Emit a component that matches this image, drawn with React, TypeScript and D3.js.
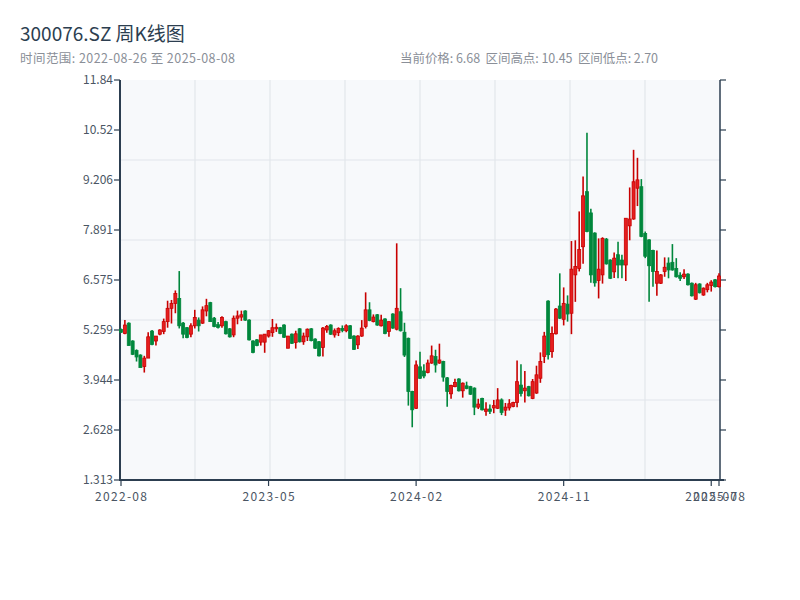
import React from 'react';
import * as d3 from 'd3';

// weekly candles, 2022-08-26 .. 2025-08-08
const startDate = new Date(2022, 7, 26);

const open = [
  5.27, 5.17, 5.44, 4.97, 4.72, 4.60, 4.30, 4.52, 5.23, 4.97, 5.15, 5.22, 5.48, 5.83, 5.96, 6.09, 5.44, 5.32, 5.15, 5.37,
  5.52, 5.44, 5.76, 5.98, 5.57, 5.40, 5.37, 5.48, 5.29, 5.13, 5.57, 5.60, 5.76, 5.52, 4.97, 5.00, 4.94, 4.94, 5.10, 5.19,
  5.29, 5.32, 5.39, 4.78, 5.15, 4.93, 5.29, 4.95, 5.08, 5.29, 5.02, 4.95, 4.80, 5.26, 5.39, 5.13, 5.19, 5.30, 5.24, 5.37,
  5.10, 4.87, 5.10, 5.35, 5.79, 5.48, 5.66, 5.37, 5.55, 5.22, 5.68, 5.28, 5.74, 5.20, 5.04, 3.64, 3.20, 4.29, 4.18, 4.14,
  4.39, 4.56, 4.39, 4.43, 4.00, 3.58, 3.77, 3.97, 3.66, 3.79, 3.77, 3.73, 3.23, 3.46, 3.12, 3.18, 3.21, 3.20, 3.42, 3.15,
  3.21, 3.25, 3.35, 3.81, 3.66, 3.77, 3.46, 3.60, 3.99, 4.56, 6.02, 4.69, 5.16, 5.89, 5.54, 5.94, 5.70, 6.71, 6.88, 7.45,
  8.90, 8.34, 7.81, 6.56, 6.71, 7.65, 7.10, 6.79, 7.24, 7.10, 6.97, 8.00, 8.18, 8.99, 9.03, 7.80, 7.63, 7.35, 6.49, 6.49,
  6.80, 7.02, 7.04, 6.88, 6.70, 6.66, 6.73, 6.49, 6.07, 6.47, 6.18, 6.32, 6.43, 6.58, 6.40,
];
const high = [
  5.30, 5.52, 5.46, 4.99, 4.75, 4.62, 4.58, 5.20, 5.26, 5.10, 5.28, 5.56, 6.03, 6.05, 6.30, 6.81, 5.47, 5.34, 5.44, 5.79,
  5.59, 5.88, 6.08, 6.00, 5.60, 5.47, 5.62, 5.50, 5.31, 5.64, 5.77, 5.77, 5.78, 5.54, 4.99, 5.02, 5.13, 5.15, 5.26, 5.55,
  5.43, 5.34, 5.41, 5.10, 5.17, 5.24, 5.31, 5.19, 5.30, 5.31, 5.04, 4.97, 5.34, 5.39, 5.41, 5.30, 5.33, 5.38, 5.41, 5.39,
  5.12, 5.12, 5.52, 6.25, 5.99, 5.67, 5.68, 5.66, 5.57, 5.48, 5.70, 7.54, 6.36, 5.45, 5.06, 3.66, 4.46, 4.69, 4.36, 4.48,
  4.85, 4.74, 4.90, 4.45, 4.02, 3.82, 3.98, 3.99, 3.88, 3.90, 3.79, 3.75, 3.45, 3.48, 3.36, 3.30, 3.42, 3.73, 3.46, 3.34,
  3.44, 3.37, 4.46, 4.36, 4.18, 3.79, 3.97, 4.32, 4.67, 5.21, 6.04, 5.35, 5.84, 6.75, 6.38, 6.17, 7.60, 7.62, 8.38, 9.30,
  10.45, 8.45, 7.83, 7.67, 7.70, 7.68, 7.12, 7.30, 7.58, 7.24, 8.20, 9.01, 10.00, 9.79, 9.23, 7.85, 7.65, 7.37, 7.35, 6.73,
  7.17, 7.17, 7.52, 7.15, 6.78, 6.86, 6.75, 6.51, 6.50, 6.49, 6.38, 6.50, 6.57, 6.60, 6.75,
];
const low = [
  5.18, 5.15, 4.85, 4.60, 4.43, 4.27, 4.14, 4.52, 4.86, 4.85, 5.12, 5.15, 5.32, 5.43, 5.70, 5.30, 5.04, 5.04, 5.07, 5.30,
  5.22, 5.42, 5.62, 5.48, 5.33, 5.30, 5.32, 5.14, 5.06, 5.07, 5.41, 5.50, 5.50, 4.98, 4.65, 4.83, 4.85, 4.66, 5.06, 5.08,
  5.21, 5.15, 5.05, 4.78, 4.89, 4.77, 4.93, 4.87, 4.97, 4.96, 4.76, 4.56, 4.56, 5.19, 5.13, 5.06, 5.10, 5.20, 5.20, 5.02,
  4.73, 4.76, 5.08, 5.30, 5.49, 5.46, 5.37, 5.35, 5.15, 5.08, 5.29, 5.25, 5.22, 4.55, 3.27, 2.70, 3.18, 3.97, 3.99, 4.12,
  4.37, 4.14, 4.37, 3.90, 3.24, 3.45, 3.75, 3.64, 3.48, 3.70, 3.55, 3.02, 3.18, 3.14, 3.00, 3.05, 3.07, 3.18, 3.02, 3.00,
  3.14, 3.23, 3.23, 3.51, 3.35, 3.51, 3.44, 3.58, 3.87, 4.39, 4.48, 4.53, 5.14, 5.55, 5.38, 5.48, 5.15, 6.00, 6.80, 7.00,
  7.83, 6.50, 6.40, 6.09, 6.48, 6.98, 6.60, 6.63, 6.62, 6.62, 6.55, 7.62, 8.16, 8.52, 7.70, 7.15, 6.00, 6.40, 6.16, 6.47,
  6.66, 6.62, 6.82, 6.64, 6.55, 6.60, 6.43, 6.14, 6.05, 6.22, 6.16, 6.25, 6.27, 6.38, 6.38,
];
const close = [
  5.20, 5.39, 4.85, 4.62, 4.55, 4.27, 4.52, 5.08, 4.88, 5.10, 5.26, 5.48, 5.83, 5.96, 6.22, 5.37, 5.15, 5.06, 5.37, 5.59,
  5.37, 5.79, 5.90, 5.48, 5.35, 5.33, 5.59, 5.16, 5.08, 5.57, 5.63, 5.66, 5.52, 5.00, 4.67, 4.85, 5.13, 5.15, 5.24, 5.32,
  5.33, 5.17, 5.07, 5.10, 4.91, 5.16, 4.95, 5.10, 5.28, 4.98, 4.78, 4.58, 5.31, 5.35, 5.15, 5.24, 5.30, 5.25, 5.37, 5.04,
  4.75, 5.10, 5.31, 5.79, 5.51, 5.60, 5.39, 5.52, 5.17, 5.48, 5.31, 5.83, 5.24, 4.60, 3.64, 3.16, 4.34, 3.99, 4.05, 4.39,
  4.58, 4.34, 4.47, 4.02, 3.64, 3.80, 3.88, 3.66, 3.86, 3.72, 3.57, 3.23, 3.31, 3.16, 3.18, 3.12, 3.27, 3.42, 3.09, 3.23,
  3.32, 3.35, 3.90, 3.59, 3.73, 3.53, 3.90, 4.08, 4.43, 5.10, 4.61, 5.17, 5.81, 5.57, 5.96, 5.68, 6.86, 6.93, 7.38, 8.79,
  7.85, 6.71, 6.50, 6.86, 7.67, 7.00, 6.62, 7.15, 6.97, 6.97, 8.20, 8.18, 9.16, 9.21, 7.72, 7.20, 6.95, 6.80, 6.80, 6.71,
  6.91, 6.84, 6.84, 6.66, 6.62, 6.73, 6.45, 6.16, 6.45, 6.24, 6.36, 6.45, 6.52, 6.40, 6.68,
];

const yDomain = [1.31275, 11.83731];
const xTickEvery = 38;

const title = '300076.SZ 周K线图';
const subtitle = '时间范围: 2022-08-26 至 2025-08-08';
const stats = '当前价格: 6.68  区间高点: 10.45  区间低点: 2.70';

const UP = '#c80000';
const UP_FILL = '#e61e1e';
const DOWN = '#00873c';
const AXIS = '#2c3e50';

export default function App() {
  const W = 800;
  const H = 600;
  const m = { left: 120, right: 80, top: 80, bottom: 120 };
  const pw = W - m.left - m.right;
  const ph = H - m.top - m.bottom;

  const idx = d3.range(close.length);
  const dates = idx.map(i => d3.timeDay.offset(startDate, i * 7));

  const x = d3.scalePoint<number>().domain(idx).range([m.left + 1, W - m.right - 1]);
  const y = d3.scaleLinear().domain(yDomain).range([m.top + ph, m.top]);

  const yTicks = d3.range(9).map(k => yDomain[0] + (k * (yDomain[1] - yDomain[0])) / 8);
  const fmtY = d3.format('.4r');
  const fmtX = d3.timeFormat('%Y-%m');
  const xTicks = idx.filter(i => i % xTickEvery === 0 || i === idx.length - 1);

  const gridX = d3.range(1, 8).map(k => m.left + (k * pw) / 8);
  const gridY = d3.range(1, 5).map(k => m.top + (k * ph) / 5);

  const font = '"Noto Sans CJK SC", "Noto Sans", sans-serif';
  const bw = 3;

  return (
    <svg width={W} height={H} style={{ position: 'absolute', left: 0, top: 0, background: '#fff' }} fontFamily={font}>
      <text x={20} y={41} fontSize={19} fill="#2c3e50">{title}</text>
      <text x={20} y={63} fontSize={12.5} fill="#8a8f98" textLength={215} lengthAdjust="spacing">{subtitle}</text>
      <text x={400} y={63} fontSize={12.5} fill="#8a8f98" style={{ whiteSpace: 'pre' }} textLength={258} lengthAdjust="spacing">{stats}</text>

      <rect x={m.left} y={m.top} width={pw} height={ph} fill="#f7f9fb" />
      {gridX.map(gx => (
        <line key={'gx' + gx} x1={gx} x2={gx} y1={m.top} y2={m.top + ph} stroke="#e2e6eb" strokeWidth={1.2} />
      ))}
      {gridY.map(gy => (
        <line key={'gy' + gy} x1={m.left} x2={m.left + pw} y1={gy} y2={gy} stroke="#e2e6eb" strokeWidth={1.2} />
      ))}

      {/* axes */}
      <line x1={m.left} x2={m.left} y1={m.top} y2={m.top + ph} stroke={AXIS} strokeWidth={2} />
      <line x1={m.left + pw} x2={m.left + pw} y1={m.top} y2={m.top + ph} stroke={AXIS} strokeWidth={1.5} />
      <line x1={m.left - 1} x2={m.left + pw + 4} y1={m.top + ph} y2={m.top + ph} stroke={AXIS} strokeWidth={2} />
      {yTicks.map(t => (
        <g key={'yt' + t} transform={`translate(0,${y(t)})`}>
          <line x1={m.left - 6} x2={m.left} stroke={AXIS} strokeWidth={1.2} />
          <line x1={m.left + pw} x2={m.left + pw + 6} stroke={AXIS} strokeWidth={1.2} />
          <text x={m.left - 7} dy="0.35em" textAnchor="end" fontSize={12} fill="#4a5563">{fmtY(t)}</text>
        </g>
      ))}
      {xTicks.map(i => (
        <g key={'xt' + i} transform={`translate(${x(i)},${m.top + ph})`}>
          <line y1={0} y2={6} stroke={AXIS} strokeWidth={1.2} />
          <text y={21} textAnchor="middle" fontSize={12} fill="#4a5563" textLength={52} lengthAdjust="spacing">{fmtX(dates[i])}</text>
        </g>
      ))}

      {/* candles */}
      {idx.map(i => {
        const up = close[i] >= open[i];
        const cx = x(i) as number;
        const top = y(Math.max(open[i], close[i]));
        const bot = y(Math.min(open[i], close[i]));
        const col = up ? UP : DOWN;
        return (
          <g key={'c' + i}>
            <line x1={cx} x2={cx} y1={y(high[i])} y2={y(low[i])} stroke={col} strokeWidth={1.6} />
            <rect
              x={cx - bw / 2}
              y={top}
              width={bw}
              height={Math.max(1, bot - top)}
              fill={up ? UP_FILL : DOWN}
              stroke={col}
              strokeWidth={0.8}
            />
          </g>
        );
      })}
    </svg>
  );
}
